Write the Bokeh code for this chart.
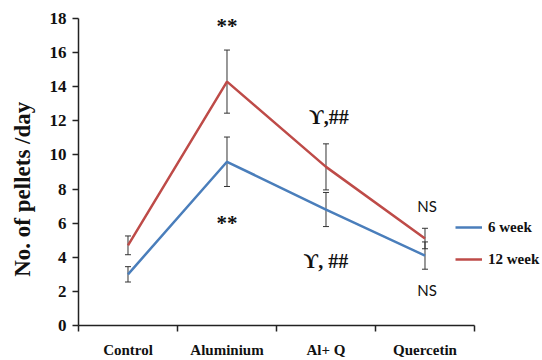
from bokeh.plotting import figure
from bokeh.models import (ColumnDataSource, Whisker, TeeHead, FixedTicker, Range1d,
                          Legend, LegendItem)
from bokeh.core.properties import value
from bokeh.embed import file_html
from bokeh.resources import INLINE

categories = ["Control", "Aluminium", "Al+ Q", "Quercetin"]
week6 = [3.0, 9.6, 6.8, 4.1]
week6_err = [0.45, 1.45, 1.0, 0.8]
week12 = [4.7, 14.3, 9.3, 5.1]
week12_err = [0.55, 1.85, 1.35, 0.6]
y_ticks = [0, 2, 4, 6, 8, 10, 12, 14, 16, 18]

BLUE = "#4a7ebb"
RED = "#be4b48"
SERIF = "Liberation Serif"

xs = [i + 0.5 for i in range(len(categories))]

p = figure(width=542, height=360, output_backend="svg", toolbar_location=None,
           x_range=Range1d(0, 4.687), y_range=Range1d(0, 18),
           min_border_left=78, min_border_right=0, min_border_top=18,
           min_border_bottom=32)
p.outline_line_color = None
p.xgrid.grid_line_color = None
p.ygrid.grid_line_color = None
p.background_fill_color = "white"
p.border_fill_color = "white"

# x axis
xa = p.xaxis[0]
xa.ticker = FixedTicker(ticks=xs, minor_ticks=list(range(len(categories) + 1)))
xa.major_label_overrides = {x: c for x, c in zip(xs, categories)}
xa.bounds = (0, len(categories))
xa.major_tick_line_color = None
xa.major_tick_out = 6
xa.minor_tick_out = 6
xa.minor_tick_in = 0
xa.minor_tick_line_color = "#222222"
xa.minor_tick_line_width = 1.5
xa.axis_line_color = "#222222"
xa.axis_line_width = 1.5
xa.major_label_standoff = 10
xa.major_label_text_font = SERIF
xa.major_label_text_font_style = "bold"
xa.major_label_text_font_size = "15px"
xa.major_label_text_color = "#111111"

# y axis
ya = p.yaxis[0]
ya.ticker = FixedTicker(ticks=y_ticks)
ya.minor_tick_line_color = None
ya.major_tick_out = 6
ya.major_tick_in = 0
ya.major_tick_line_color = "#222222"
ya.major_tick_line_width = 1.5
ya.axis_line_color = "#222222"
ya.axis_line_width = 1.5
ya.major_label_standoff = 6
ya.major_label_text_font = SERIF
ya.major_label_text_font_style = "bold"
ya.major_label_text_font_size = "17px"
ya.major_label_text_color = "#111111"
ya.axis_label = "No. of pellets /day" + "\u00a0" * 6
ya.axis_label_text_font = SERIF
ya.axis_label_text_font_style = "bold"
ya.axis_label_text_font_size = "23px"
ya.axis_label_text_color = "#111111"
ya.axis_label_standoff = 12

src6 = ColumnDataSource(dict(x=xs, y=week6,
                             upper=[v + e for v, e in zip(week6, week6_err)],
                             lower=[v - e for v, e in zip(week6, week6_err)]))
src12 = ColumnDataSource(dict(x=xs, y=week12,
                              upper=[v + e for v, e in zip(week12, week12_err)],
                              lower=[v - e for v, e in zip(week12, week12_err)]))

r6 = p.line("x", "y", source=src6, line_color=BLUE, line_width=2.5)
r12 = p.line("x", "y", source=src12, line_color=RED, line_width=2.5)

for s in (src6, src12):
    w = Whisker(base="x", upper="upper", lower="lower", source=s,
                line_color="#333333", line_width=1,
                upper_head=TeeHead(size=6, line_color="#333333", line_width=1),
                lower_head=TeeHead(size=6, line_color="#333333", line_width=1))
    p.add_layout(w)

# significance annotations
star_src = ColumnDataSource(dict(x=[1.5, 1.5], y=[17.55, 6.0], t=["**", "**"]))
p.text("x", "y", text="t", source=star_src, text_font=value(SERIF),
       text_font_style="bold", text_font_size="21px", text_align="center",
       text_baseline="middle", text_color="#111111")
ups_src = ColumnDataSource(dict(x=[2.53, 2.5], y=[12.25, 3.8],
                                t=["\u03d2,##", "\u03d2, ##"]))
p.text("x", "y", text="t", source=ups_src, text_font=value(SERIF),
       text_font_style="bold", text_font_size="20px", text_align="center",
       text_baseline="middle", text_color="#111111")
ns_src = ColumnDataSource(dict(x=[3.52, 3.52], y=[7.0, 2.1], t=["NS", "NS"]))
p.text("x", "y", text="t", source=ns_src, text_font=value("Lato"),
       text_font_size="15px", text_align="center", text_baseline="middle",
       text_color="#111111")

legend = Legend(items=[LegendItem(label="6 week", renderers=[r6]),
                       LegendItem(label="12 week", renderers=[r12])],
                location=(377, 56))
legend.glyph_width = 27
legend.glyph_height = 20
legend.spacing = 12
legend.padding = 0
legend.margin = 0
legend.label_standoff = 6
legend.border_line_color = None
legend.background_fill_alpha = 0
legend.label_text_font = SERIF
legend.label_text_font_style = "bold"
legend.label_text_font_size = "15px"
legend.label_text_color = "#111111"
p.add_layout(legend)

open("out.html", "w").write(file_html(p, INLINE))
